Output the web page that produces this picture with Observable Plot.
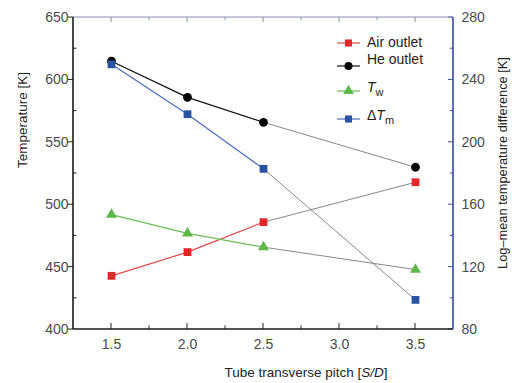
<!DOCTYPE html>
<html><head><meta charset="utf-8">
<script src="https://cdn.jsdelivr.net/npm/d3@7"></script>
<script src="https://cdn.jsdelivr.net/npm/@observablehq/plot@0.6"></script>
<style>
body{margin:0;background:#fff;}
svg{font-family:"Liberation Sans",Arial,sans-serif;}
</style></head><body>
<div id="chart"></div>
<script>
// Data
const pitch = [1.5, 2.0, 2.5, 3.5];
const airOutlet = [443, 462, 486, 518];
const heOutlet = [615, 586, 566, 530];
const wallTemp = [492, 477, 466, 448];
const deltaTm = [250, 218, 183, 99]; // right axis
const xTicks = [1.5, 2.0, 2.5, 3.0, 3.5];
const xMinor = [1.75, 2.25, 2.75, 3.25];
const yTicks = [400, 450, 500, 550, 600, 650];
const yMinor = [425, 475, 525, 575, 625];
const y2Ticks = [80, 120, 160, 200, 240, 280];
const y2Minor = [100, 140, 180, 220, 260];

const toLeft = v => 400 + (v - 80) * 250 / 200;

const seriesDefs = [
  {key: "Air outlet", values: airOutlet, right: false, color: "#e3262b", line: "#e04a4a", symbol: "square", r: 4.4},
  {key: "He outlet", values: heOutlet, right: false, color: "#000000", line: "#111111", symbol: "circle", r: 4.4},
  {key: "Tw", values: wallTemp, right: false, color: "#5eb847", line: "#6cbb55", symbol: "triangle", r: 4.1},
  {key: "ΔTm", values: deltaTm, right: true, color: "#2a52a3", line: "#4a6bc2", symbol: "square", r: 4.4}
];
const rows = seriesDefs.flatMap(s => pitch.map((p, i) => ({series: s.key, x: p, v: s.values[i], y: s.right ? toLeft(s.values[i]) : s.values[i]})));

const marks = [];
for (const s of seriesDefs) {
  const d = rows.filter(r => r.series === s.key);
  marks.push(Plot.line(d.filter(r => r.x <= 2.5), {x: "x", y: "y", stroke: s.line, strokeWidth: 1.2}));
  marks.push(Plot.line(d.filter(r => r.x >= 2.5), {x: "x", y: "y", stroke: "#7a7a7a", strokeWidth: 0.9}));
}
for (const s of seriesDefs) {
  const d = rows.filter(r => r.series === s.key);
  marks.push(Plot.dot(d, {x: "x", y: "y", symbol: s.symbol, r: s.r, fill: s.color, stroke: "none"}));
}

const plot = Plot.plot({
  width: 512, height: 383,
  marginTop: 17, marginBottom: 54, marginLeft: 73, marginRight: 59,
  x: {domain: [1.25, 3.75]},
  y: {domain: [400, 650]},
  style: {fontFamily: "Liberation Sans, Arial, sans-serif", fontSize: "14px", background: "#fff"},
  marks: [
    Plot.axisX({ticks: xTicks, tickSize: 0, tickPadding: 10, tickFormat: d3.format(".1f"), label: null, fill: "#4a4a4a", fontSize: 14}),
    Plot.axisY({ticks: yTicks, tickSize: 0, tickPadding: 5, label: null, fill: "#4a4a4a", fontSize: 14}),
    Plot.axisY({anchor: "right", ticks: y2Ticks.map(toLeft), tickFormat: d => Math.round(80 + (d - 400) * 200 / 250), tickSize: 0, tickPadding: 8, label: null, fill: "#4a4a4a", fontSize: 14}),
    ...marks
  ]
});

const svg = d3.select(plot);
const xs = plot.scale("x"), ys = plot.scale("y");
const X = v => xs.apply(v), Y = v => ys.apply(v);
const x0 = X(1.25), x1 = X(3.75), yb = Y(400), yt = Y(650);
const g = svg.append("g");
const tick = (xa, ya, xb, yb2, c) => g.append("line").attr("x1", xa).attr("y1", ya).attr("x2", xb).attr("y2", yb2).attr("stroke", c).attr("stroke-width", 1);
// bottom & top ticks (inward)
xTicks.forEach(v => { tick(X(v), yb, X(v), yb - 6, "#222"); tick(X(v), yt, X(v), yt + 5, "#8a8fa8"); });
xMinor.forEach(v => { tick(X(v), yb, X(v), yb - 3.5, "#222"); tick(X(v), yt, X(v), yt + 3, "#8a8fa8"); });
// left ticks
yTicks.forEach(v => tick(x0, Y(v), x0 - 5, Y(v), "#222"));
yMinor.forEach(v => tick(x0, Y(v), x0 + 3.5, Y(v), "#222"));
// right ticks (inward)
y2Ticks.forEach(v => tick(x1, Y(toLeft(v)), x1 - 5, Y(toLeft(v)), "#3b4f9e"));
y2Minor.forEach(v => tick(x1, Y(toLeft(v)), x1 - 3, Y(toLeft(v)), "#3b4f9e"));
// frame
g.append("line").attr("x1", x0).attr("x2", x1).attr("y1", yt).attr("y2", yt).attr("stroke", "#8a8fb8").attr("stroke-width", 1);
g.append("line").attr("x1", x0).attr("x2", x1).attr("y1", yb).attr("y2", yb).attr("stroke", "#1a1a1a").attr("stroke-width", 1.6);
g.append("line").attr("x1", x0).attr("x2", x0).attr("y1", yt).attr("y2", yb).attr("stroke", "#1a1a1a").attr("stroke-width", 1.6);
g.append("line").attr("x1", x1).attr("x2", x1).attr("y1", yt).attr("y2", yb).attr("stroke", "#3447a0").attr("stroke-width", 1.6);

// axis titles
svg.append("text").attr("transform", `translate(27,${(yt + yb) / 2 - 53}) rotate(-90)`).attr("text-anchor", "middle").attr("fill", "#222").attr("font-size", 13.5).text("Temperature [K]");
svg.append("text").attr("transform", `translate(507,${(yt + yb) / 2 - 10}) rotate(-90)`).attr("text-anchor", "middle").attr("fill", "#222").attr("font-size", 12.8).text("Log\u2013mean temperature difference [K]");
const xt = svg.append("text").attr("x", (x0 + x1) / 2 + 43).attr("y", 377).attr("text-anchor", "middle").attr("fill", "#222").attr("font-size", 13.5);
xt.append("tspan").text("Tube transverse pitch [");
xt.append("tspan").attr("font-style", "italic").text("S/D");
xt.append("tspan").text("]");

// legend
const lg = svg.append("g").attr("transform", "translate(337,0)").attr("text-anchor", "start");
const legendY = [43, 66, 91, 119];
seriesDefs.forEach((s, i) => {
  const yy = legendY[i];
  lg.append("line").attr("x1", 0).attr("x2", 23).attr("y1", yy).attr("y2", yy).attr("stroke", s.line).attr("stroke-width", 1.2);
  lg.append("path").attr("transform", `translate(11.5,${yy})`).attr("d", d3.symbol(s.symbol === "square" ? d3.symbolSquare : s.symbol === "circle" ? d3.symbolCircle : d3.symbolTriangle, Math.PI * 4 * 4)()).attr("fill", s.color);
  const t = lg.append("text").attr("x", 30).attr("text-anchor", "start").attr("fill", "#222").attr("font-size", 14);
  if (i === 0) { t.attr("y", yy + 4).text("Air outlet"); }
  else if (i === 1) { t.attr("y", yy - 2).text("He outlet"); }
  else if (i === 2) { t.attr("y", yy + 1); t.append("tspan").attr("font-style", "italic").text("T"); t.append("tspan").attr("font-size", 11).attr("dy", 4).text("w"); }
  else { t.attr("y", yy + 1); t.append("tspan").text("\u0394"); t.append("tspan").attr("font-style", "italic").text("T"); t.append("tspan").attr("font-size", 11).attr("dy", 4).text("m"); }
});

document.getElementById("chart").appendChild(plot);
</script></body></html>
